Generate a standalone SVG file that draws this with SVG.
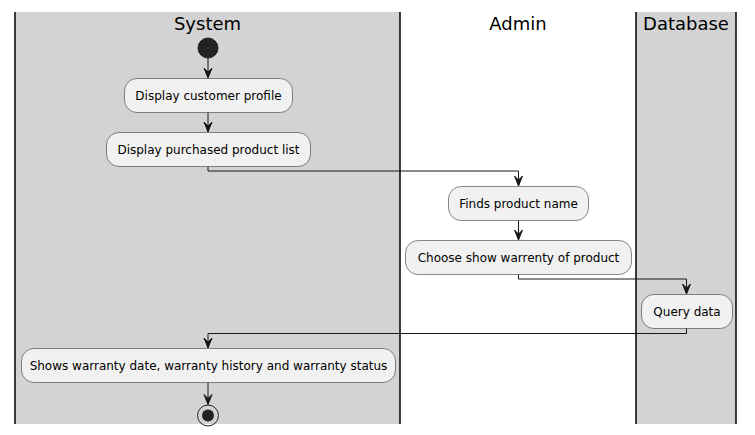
<svg xmlns="http://www.w3.org/2000/svg" width="755" height="435" viewBox="0 0 755 435">
<style>
.lane{fill:#D3D3D3;stroke:none}
.lline{stroke:#000;stroke-width:1.5}
.title{font-family:"DejaVu Sans",sans-serif;font-size:18px;fill:#000;text-anchor:middle}
.act rect{fill:#F1F1F1;stroke:#181818;stroke-width:0.5}
.act text{font-family:"DejaVu Sans",sans-serif;font-size:12px;fill:#000;text-anchor:middle}
.conn path{fill:none;stroke:#181818;stroke-width:1}
.conn polygon{fill:#181818;stroke:#181818;stroke-width:1}
</style>
<rect width="755" height="435" fill="#FFFFFF"/>
<g id="lanes">
<rect class="lane" x="15" y="12" width="385" height="412"/>
<rect class="lane" x="636" y="12" width="100" height="412"/>
<line class="lline" x1="15" y1="12" x2="15" y2="424"/>
<line class="lline" x1="400" y1="12" x2="400" y2="424"/>
<line class="lline" x1="636" y1="12" x2="636" y2="424"/>
<line class="lline" x1="736" y1="12" x2="736" y2="424"/>
<text class="title" x="207.5" y="30">System</text>
<text class="title" x="518" y="30">Admin</text>
<text class="title" x="686" y="30">Database</text>
</g>
<g id="start"><circle cx="208" cy="48" r="10" fill="#222222" stroke="#222222"/></g>
<g id="n1" class="act"><rect x="124.5" y="78.5" width="168" height="34" rx="12.5"/><text x="208.5" y="100">Display customer profile</text></g>
<g id="n2" class="act"><rect x="106.5" y="132.5" width="204" height="34" rx="12.5"/><text x="208.5" y="154">Display purchased product list</text></g>
<g id="n3" class="act"><rect x="448.5" y="186.5" width="140" height="34" rx="12.5"/><text x="518.5" y="208">Finds product name</text></g>
<g id="n4" class="act"><rect x="405.5" y="240.5" width="226" height="34" rx="12.5"/><text x="518.5" y="262">Choose show warrenty of product</text></g>
<g id="n5" class="act"><rect x="641.5" y="294.5" width="91" height="34" rx="12.5"/><text x="687" y="316">Query data</text></g>
<g id="n6" class="act"><rect x="21.5" y="348.5" width="374" height="34" rx="12.5"/><text x="208.5" y="370">Shows warranty date, warranty history and warranty status</text></g>
<g id="end"><circle cx="208" cy="415.5" r="10.5" fill="none" stroke="#222222" stroke-width="1"/><circle cx="208" cy="415.5" r="6" fill="#222222"/></g>
<g id="connectors" class="conn">
<path d="M208,58 V78"/><polygon points="204,68 208,78 212,68 208,72"/>
<path d="M208,112.5 V132"/><polygon points="204,122 208,132 212,122 208,126"/>
<path d="M208,166.5 V171 H518.5 V186"/><polygon points="514.5,176 518.5,186 522.5,176 518.5,180"/>
<path d="M518.5,220.5 V240"/><polygon points="514.5,230 518.5,240 522.5,230 518.5,234"/>
<path d="M518.5,274.5 V279 H686.5 V294"/><polygon points="682.5,284 686.5,294 690.5,284 686.5,288"/>
<path d="M686.5,328.5 V333.5 H208 V348"/><polygon points="204,338 208,348 212,338 208,342"/>
<path d="M208,382.5 V404.5"/><polygon points="204,394.5 208,404.5 212,394.5 208,398.5"/>
</g>
</svg>
